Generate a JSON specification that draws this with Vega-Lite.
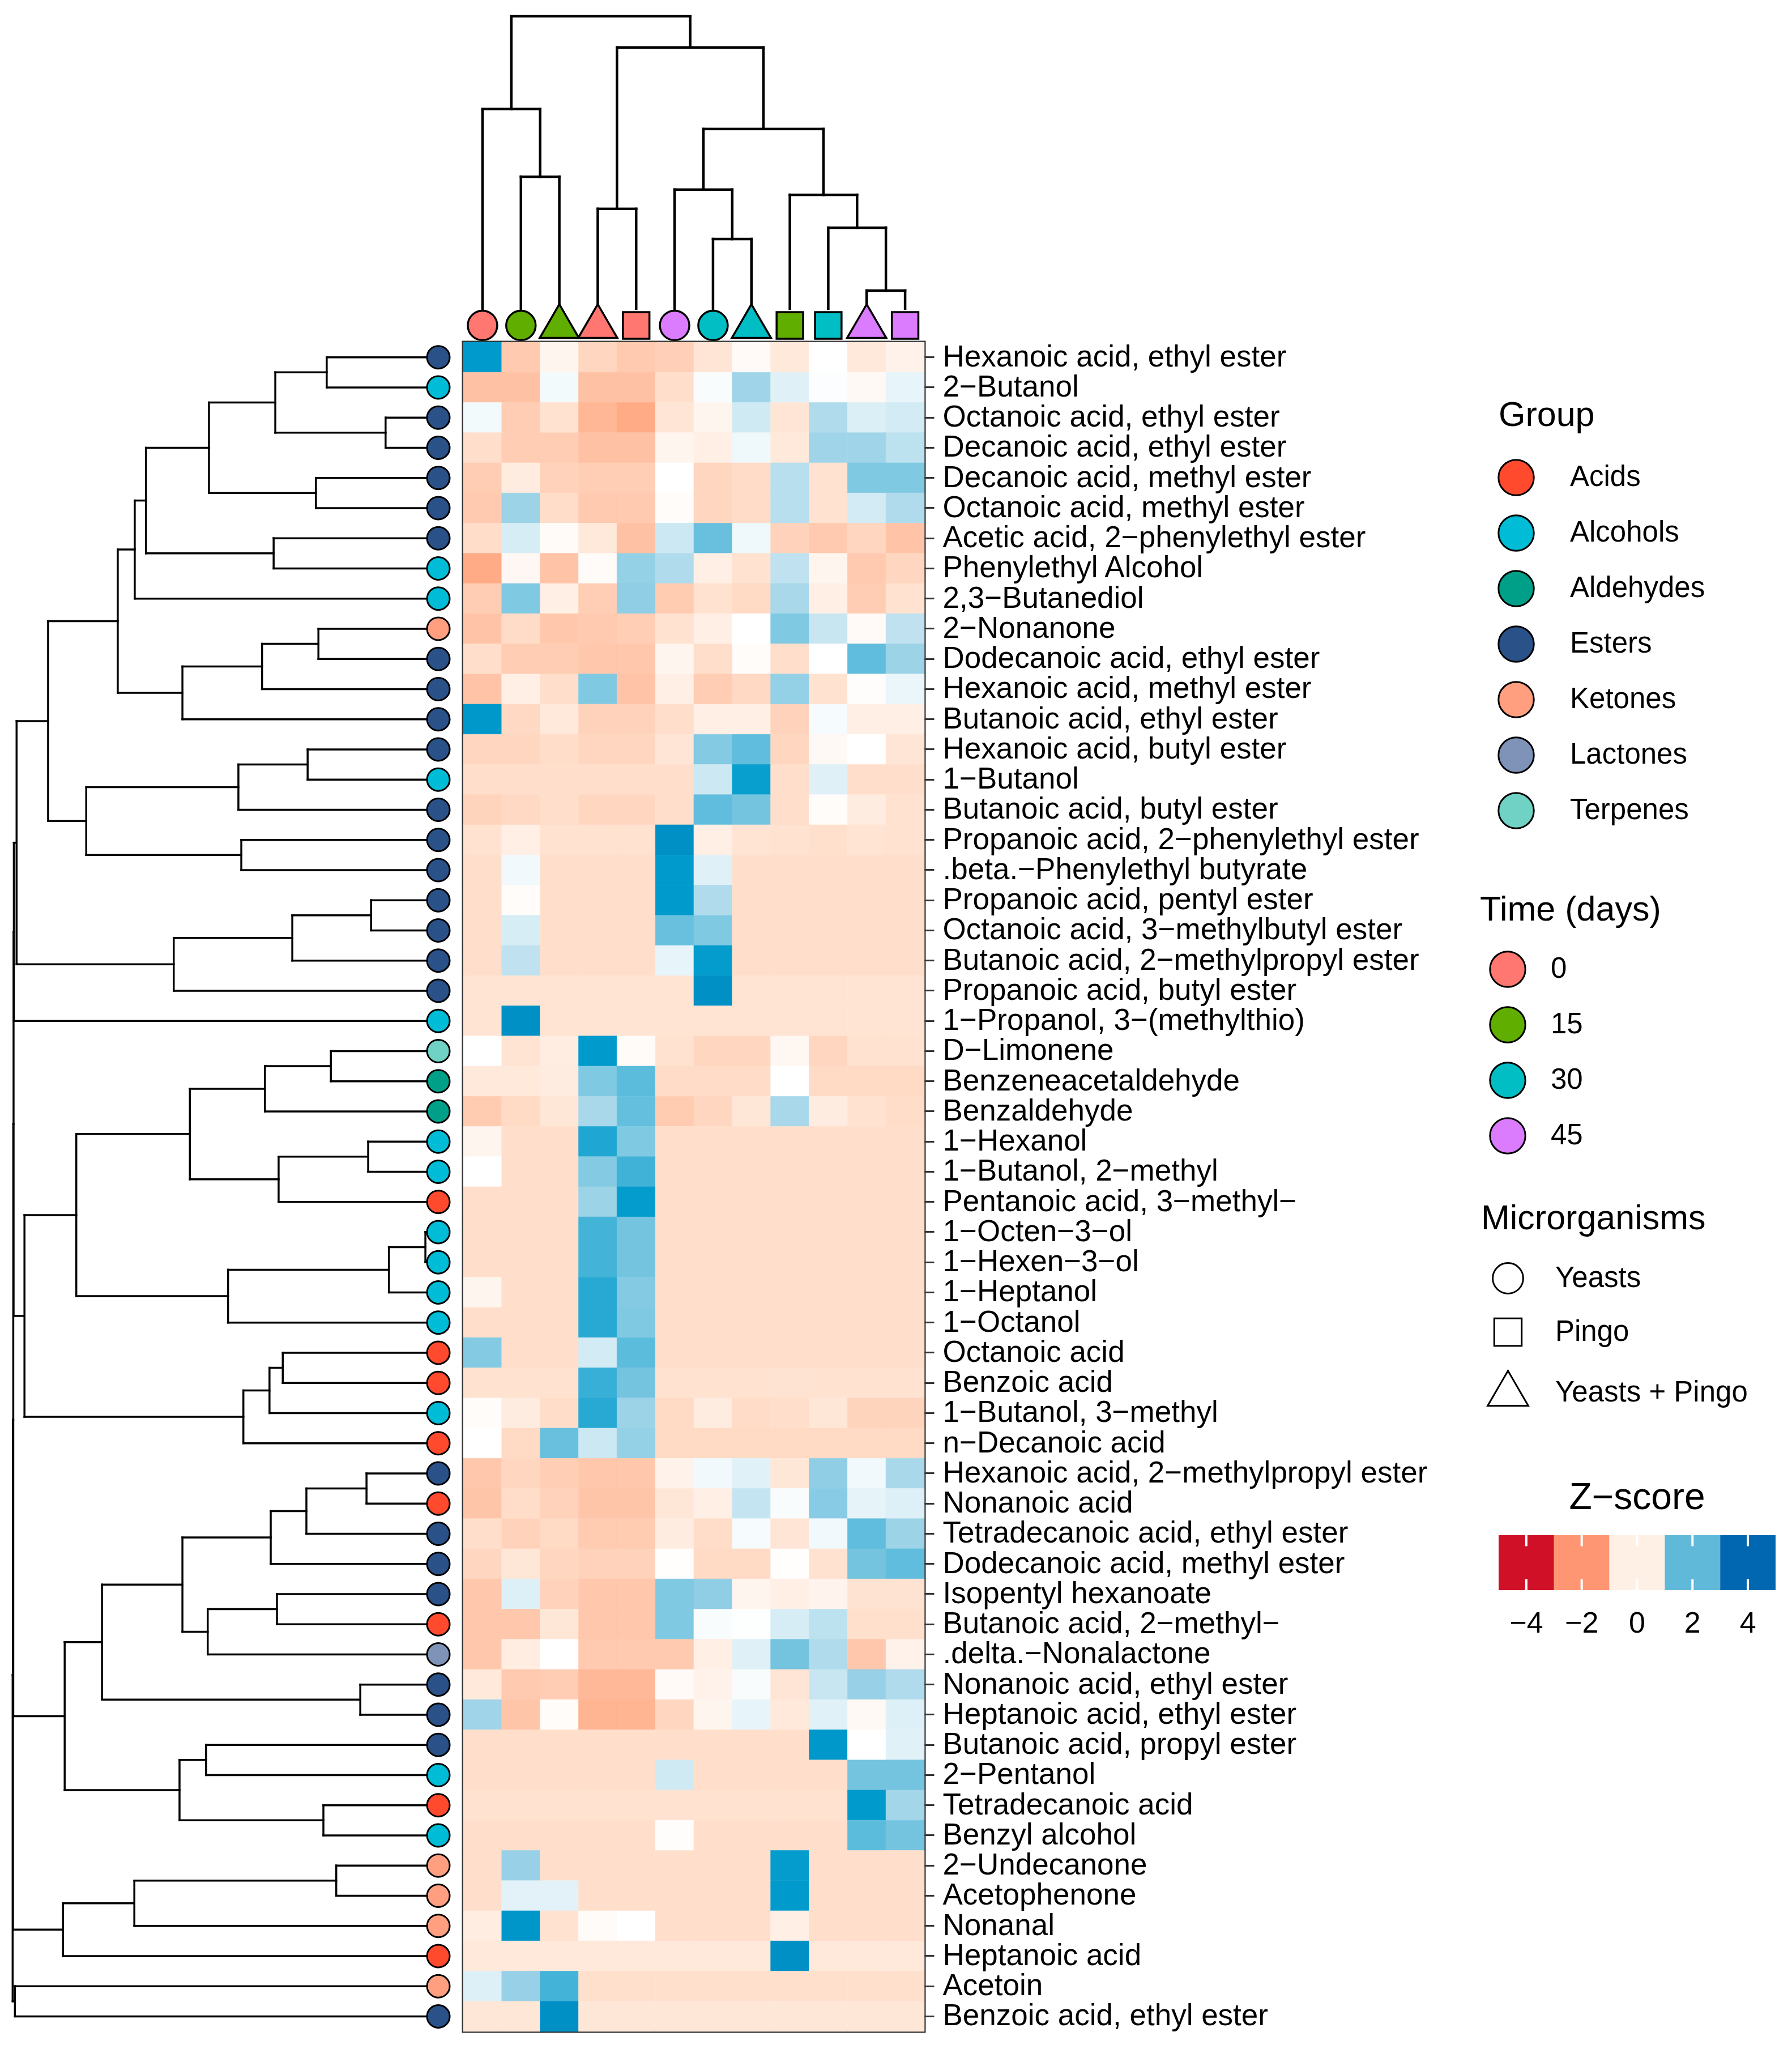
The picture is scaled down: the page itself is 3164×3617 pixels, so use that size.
{
"$schema": "https://vega.github.io/schema/vega-lite/v6.json",
"padding": 0,
"background": "white",
"config": {
  "view": {"stroke": null},
  "font": "Liberation Sans",
  "legend": {"labelFont": "Liberation Sans", "titleFont": "Liberation Sans", "labelFontSize": 51, "titleFontSize": 61, "titleFontWeight": "normal", "labelColor": "black", "titleColor": "black", "padding": 0, "labelLimit": 2000, "titleLimit": 2000, "symbolOpacity": 1}
},
"datasets": {
"compounds": [
{"r":1,"name":"Hexanoic acid, ethyl ester","Group":"Esters"},
{"r":2,"name":"2−Butanol","Group":"Alcohols"},
{"r":3,"name":"Octanoic acid, ethyl ester","Group":"Esters"},
{"r":4,"name":"Decanoic acid, ethyl ester","Group":"Esters"},
{"r":5,"name":"Decanoic acid, methyl ester","Group":"Esters"},
{"r":6,"name":"Octanoic acid, methyl ester","Group":"Esters"},
{"r":7,"name":"Acetic acid, 2−phenylethyl ester","Group":"Esters"},
{"r":8,"name":"Phenylethyl Alcohol","Group":"Alcohols"},
{"r":9,"name":"2,3−Butanediol","Group":"Alcohols"},
{"r":10,"name":"2−Nonanone","Group":"Ketones"},
{"r":11,"name":"Dodecanoic acid, ethyl ester","Group":"Esters"},
{"r":12,"name":"Hexanoic acid, methyl ester","Group":"Esters"},
{"r":13,"name":"Butanoic acid, ethyl ester","Group":"Esters"},
{"r":14,"name":"Hexanoic acid, butyl ester","Group":"Esters"},
{"r":15,"name":"1−Butanol","Group":"Alcohols"},
{"r":16,"name":"Butanoic acid, butyl ester","Group":"Esters"},
{"r":17,"name":"Propanoic acid, 2−phenylethyl ester","Group":"Esters"},
{"r":18,"name":".beta.−Phenylethyl butyrate","Group":"Esters"},
{"r":19,"name":"Propanoic acid, pentyl ester","Group":"Esters"},
{"r":20,"name":"Octanoic acid, 3−methylbutyl ester","Group":"Esters"},
{"r":21,"name":"Butanoic acid, 2−methylpropyl ester","Group":"Esters"},
{"r":22,"name":"Propanoic acid, butyl ester","Group":"Esters"},
{"r":23,"name":"1−Propanol, 3−(methylthio)","Group":"Alcohols"},
{"r":24,"name":"D−Limonene","Group":"Terpenes"},
{"r":25,"name":"Benzeneacetaldehyde","Group":"Aldehydes"},
{"r":26,"name":"Benzaldehyde","Group":"Aldehydes"},
{"r":27,"name":"1−Hexanol","Group":"Alcohols"},
{"r":28,"name":"1−Butanol, 2−methyl","Group":"Alcohols"},
{"r":29,"name":"Pentanoic acid, 3−methyl−","Group":"Acids"},
{"r":30,"name":"1−Octen−3−ol","Group":"Alcohols"},
{"r":31,"name":"1−Hexen−3−ol","Group":"Alcohols"},
{"r":32,"name":"1−Heptanol","Group":"Alcohols"},
{"r":33,"name":"1−Octanol","Group":"Alcohols"},
{"r":34,"name":"Octanoic acid","Group":"Acids"},
{"r":35,"name":"Benzoic acid","Group":"Acids"},
{"r":36,"name":"1−Butanol, 3−methyl","Group":"Alcohols"},
{"r":37,"name":"n−Decanoic acid","Group":"Acids"},
{"r":38,"name":"Hexanoic acid, 2−methylpropyl ester","Group":"Esters"},
{"r":39,"name":"Nonanoic acid","Group":"Acids"},
{"r":40,"name":"Tetradecanoic acid, ethyl ester","Group":"Esters"},
{"r":41,"name":"Dodecanoic acid, methyl ester","Group":"Esters"},
{"r":42,"name":"Isopentyl hexanoate","Group":"Esters"},
{"r":43,"name":"Butanoic acid, 2−methyl−","Group":"Acids"},
{"r":44,"name":".delta.−Nonalactone","Group":"Lactones"},
{"r":45,"name":"Nonanoic acid, ethyl ester","Group":"Esters"},
{"r":46,"name":"Heptanoic acid, ethyl ester","Group":"Esters"},
{"r":47,"name":"Butanoic acid, propyl ester","Group":"Esters"},
{"r":48,"name":"2−Pentanol","Group":"Alcohols"},
{"r":49,"name":"Tetradecanoic acid","Group":"Acids"},
{"r":50,"name":"Benzyl alcohol","Group":"Alcohols"},
{"r":51,"name":"2−Undecanone","Group":"Ketones"},
{"r":52,"name":"Acetophenone","Group":"Ketones"},
{"r":53,"name":"Nonanal","Group":"Ketones"},
{"r":54,"name":"Heptanoic acid","Group":"Acids"},
{"r":55,"name":"Acetoin","Group":"Ketones"},
{"r":56,"name":"Benzoic acid, ethyl ester","Group":"Esters"}
],
"cells": [
{"r":1,"c":1,"z":3.2},{"r":1,"c":2,"z":-1.2},{"r":1,"c":3,"z":-0.15},{"r":1,"c":4,"z":-0.8},{"r":1,"c":5,"z":-1.2},{"r":1,"c":6,"z":-1.0},{"r":1,"c":7,"z":-0.4},{"r":1,"c":8,"z":-0.08},{"r":1,"c":9,"z":-0.35},{"r":1,"c":10,"z":0},{"r":1,"c":11,"z":-0.35},{"r":1,"c":12,"z":-0.2},
{"r":2,"c":1,"z":-1.5},{"r":2,"c":2,"z":-1.5},{"r":2,"c":3,"z":0.15},{"r":2,"c":4,"z":-1.5},{"r":2,"c":5,"z":-1.5},{"r":2,"c":6,"z":-0.5},{"r":2,"c":7,"z":0.08},{"r":2,"c":8,"z":1.2},{"r":2,"c":9,"z":0.4},{"r":2,"c":10,"z":0.05},{"r":2,"c":11,"z":-0.1},{"r":2,"c":12,"z":0.3},
{"r":3,"c":1,"z":0.15},{"r":3,"c":2,"z":-1.1},{"r":3,"c":3,"z":-0.45},{"r":3,"c":4,"z":-1.8},{"r":3,"c":5,"z":-2.2},{"r":3,"c":6,"z":-0.4},{"r":3,"c":7,"z":-0.15},{"r":3,"c":8,"z":0.6},{"r":3,"c":9,"z":-0.4},{"r":3,"c":10,"z":1.0},{"r":3,"c":11,"z":0.45},{"r":3,"c":12,"z":0.55},
{"r":4,"c":1,"z":-0.5},{"r":4,"c":2,"z":-1.1},{"r":4,"c":3,"z":-1.1},{"r":4,"c":4,"z":-1.5},{"r":4,"c":5,"z":-1.5},{"r":4,"c":6,"z":-0.15},{"r":4,"c":7,"z":-0.25},{"r":4,"c":8,"z":0.2},{"r":4,"c":9,"z":-0.35},{"r":4,"c":10,"z":1.2},{"r":4,"c":11,"z":1.2},{"r":4,"c":12,"z":0.85},
{"r":5,"c":1,"z":-1.1},{"r":5,"c":2,"z":-0.3},{"r":5,"c":3,"z":-0.9},{"r":5,"c":4,"z":-1.05},{"r":5,"c":5,"z":-1.05},{"r":5,"c":6,"z":0},{"r":5,"c":7,"z":-0.8},{"r":5,"c":8,"z":-0.6},{"r":5,"c":9,"z":0.9},{"r":5,"c":10,"z":-0.45},{"r":5,"c":11,"z":1.6},{"r":5,"c":12,"z":1.6},
{"r":6,"c":1,"z":-1.2},{"r":6,"c":2,"z":1.25},{"r":6,"c":3,"z":-0.55},{"r":6,"c":4,"z":-1.2},{"r":6,"c":5,"z":-1.2},{"r":6,"c":6,"z":-0.05},{"r":6,"c":7,"z":-0.8},{"r":6,"c":8,"z":-0.6},{"r":6,"c":9,"z":0.9},{"r":6,"c":10,"z":-0.45},{"r":6,"c":11,"z":0.55},{"r":6,"c":12,"z":1.0},
{"r":7,"c":1,"z":-0.55},{"r":7,"c":2,"z":0.5},{"r":7,"c":3,"z":-0.07},{"r":7,"c":4,"z":-0.35},{"r":7,"c":5,"z":-1.5},{"r":7,"c":6,"z":0.65},{"r":7,"c":7,"z":1.9},{"r":7,"c":8,"z":0.2},{"r":7,"c":9,"z":-0.9},{"r":7,"c":10,"z":-1.2},{"r":7,"c":11,"z":-0.8},{"r":7,"c":12,"z":-1.4},
{"r":8,"c":1,"z":-2.2},{"r":8,"c":2,"z":-0.12},{"r":8,"c":3,"z":-1.4},{"r":8,"c":4,"z":-0.07},{"r":8,"c":5,"z":1.35},{"r":8,"c":6,"z":1.0},{"r":8,"c":7,"z":-0.25},{"r":8,"c":8,"z":-0.45},{"r":8,"c":9,"z":0.8},{"r":8,"c":10,"z":-0.15},{"r":8,"c":11,"z":-1.2},{"r":8,"c":12,"z":-0.8},
{"r":9,"c":1,"z":-1.1},{"r":9,"c":2,"z":1.6},{"r":9,"c":3,"z":-0.25},{"r":9,"c":4,"z":-1.05},{"r":9,"c":5,"z":1.4},{"r":9,"c":6,"z":-1.15},{"r":9,"c":7,"z":-0.45},{"r":9,"c":8,"z":-0.65},{"r":9,"c":9,"z":1.1},{"r":9,"c":10,"z":-0.25},{"r":9,"c":11,"z":-1.1},{"r":9,"c":12,"z":-0.45},
{"r":10,"c":1,"z":-1.4},{"r":10,"c":2,"z":-0.6},{"r":10,"c":3,"z":-1.25},{"r":10,"c":4,"z":-1.2},{"r":10,"c":5,"z":-1.05},{"r":10,"c":6,"z":-0.45},{"r":10,"c":7,"z":-0.25},{"r":10,"c":8,"z":0},{"r":10,"c":9,"z":1.6},{"r":10,"c":10,"z":0.7},{"r":10,"c":11,"z":-0.08},{"r":10,"c":12,"z":0.8},
{"r":11,"c":1,"z":-0.5},{"r":11,"c":2,"z":-1.1},{"r":11,"c":3,"z":-1.1},{"r":11,"c":4,"z":-1.3},{"r":11,"c":5,"z":-1.3},{"r":11,"c":6,"z":-0.15},{"r":11,"c":7,"z":-0.5},{"r":11,"c":8,"z":-0.05},{"r":11,"c":9,"z":-0.5},{"r":11,"c":10,"z":0},{"r":11,"c":11,"z":2.0},{"r":11,"c":12,"z":1.25},
{"r":12,"c":1,"z":-1.4},{"r":12,"c":2,"z":-0.25},{"r":12,"c":3,"z":-0.5},{"r":12,"c":4,"z":1.6},{"r":12,"c":5,"z":-1.4},{"r":12,"c":6,"z":-0.25},{"r":12,"c":7,"z":-1.1},{"r":12,"c":8,"z":-0.7},{"r":12,"c":9,"z":1.35},{"r":12,"c":10,"z":-0.45},{"r":12,"c":11,"z":-0.03},{"r":12,"c":12,"z":0.25},
{"r":13,"c":1,"z":3.3},{"r":13,"c":2,"z":-0.7},{"r":13,"c":3,"z":-0.35},{"r":13,"c":4,"z":-0.9},{"r":13,"c":5,"z":-0.9},{"r":13,"c":6,"z":-0.5},{"r":13,"c":7,"z":-0.25},{"r":13,"c":8,"z":-0.25},{"r":13,"c":9,"z":-0.9},{"r":13,"c":10,"z":0.12},{"r":13,"c":11,"z":-0.25},{"r":13,"c":12,"z":-0.25},
{"r":14,"c":1,"z":-0.8},{"r":14,"c":2,"z":-0.8},{"r":14,"c":3,"z":-0.55},{"r":14,"c":4,"z":-0.8},{"r":14,"c":5,"z":-0.8},{"r":14,"c":6,"z":-0.4},{"r":14,"c":7,"z":1.55},{"r":14,"c":8,"z":2.0},{"r":14,"c":9,"z":-0.8},{"r":14,"c":10,"z":-0.1},{"r":14,"c":11,"z":0},{"r":14,"c":12,"z":-0.4},
{"r":15,"c":1,"z":-0.5},{"r":15,"c":2,"z":-0.5},{"r":15,"c":3,"z":-0.5},{"r":15,"c":4,"z":-0.5},{"r":15,"c":5,"z":-0.5},{"r":15,"c":6,"z":-0.5},{"r":15,"c":7,"z":0.65},{"r":15,"c":8,"z":3.1},{"r":15,"c":9,"z":-0.5},{"r":15,"c":10,"z":0.4},{"r":15,"c":11,"z":-0.5},{"r":15,"c":12,"z":-0.5},
{"r":16,"c":1,"z":-0.85},{"r":16,"c":2,"z":-0.7},{"r":16,"c":3,"z":-0.5},{"r":16,"c":4,"z":-0.8},{"r":16,"c":5,"z":-0.8},{"r":16,"c":6,"z":-0.5},{"r":16,"c":7,"z":2.0},{"r":16,"c":8,"z":1.75},{"r":16,"c":9,"z":-0.5},{"r":16,"c":10,"z":-0.05},{"r":16,"c":11,"z":-0.3},{"r":16,"c":12,"z":-0.45},
{"r":17,"c":1,"z":-0.45},{"r":17,"c":2,"z":-0.25},{"r":17,"c":3,"z":-0.45},{"r":17,"c":4,"z":-0.45},{"r":17,"c":5,"z":-0.45},{"r":17,"c":6,"z":3.6},{"r":17,"c":7,"z":-0.25},{"r":17,"c":8,"z":-0.42},{"r":17,"c":9,"z":-0.45},{"r":17,"c":10,"z":-0.48},{"r":17,"c":11,"z":-0.42},{"r":17,"c":12,"z":-0.45},
{"r":18,"c":1,"z":-0.5},{"r":18,"c":2,"z":0.18},{"r":18,"c":3,"z":-0.5},{"r":18,"c":4,"z":-0.5},{"r":18,"c":5,"z":-0.5},{"r":18,"c":6,"z":3.2},{"r":18,"c":7,"z":0.4},{"r":18,"c":8,"z":-0.5},{"r":18,"c":9,"z":-0.5},{"r":18,"c":10,"z":-0.5},{"r":18,"c":11,"z":-0.5},{"r":18,"c":12,"z":-0.5},
{"r":19,"c":1,"z":-0.5},{"r":19,"c":2,"z":-0.05},{"r":19,"c":3,"z":-0.5},{"r":19,"c":4,"z":-0.5},{"r":19,"c":5,"z":-0.5},{"r":19,"c":6,"z":3.2},{"r":19,"c":7,"z":1.0},{"r":19,"c":8,"z":-0.5},{"r":19,"c":9,"z":-0.5},{"r":19,"c":10,"z":-0.5},{"r":19,"c":11,"z":-0.5},{"r":19,"c":12,"z":-0.5},
{"r":20,"c":1,"z":-0.5},{"r":20,"c":2,"z":0.5},{"r":20,"c":3,"z":-0.5},{"r":20,"c":4,"z":-0.5},{"r":20,"c":5,"z":-0.5},{"r":20,"c":6,"z":1.9},{"r":20,"c":7,"z":1.6},{"r":20,"c":8,"z":-0.5},{"r":20,"c":9,"z":-0.5},{"r":20,"c":10,"z":-0.5},{"r":20,"c":11,"z":-0.5},{"r":20,"c":12,"z":-0.5},
{"r":21,"c":1,"z":-0.5},{"r":21,"c":2,"z":0.8},{"r":21,"c":3,"z":-0.5},{"r":21,"c":4,"z":-0.5},{"r":21,"c":5,"z":-0.5},{"r":21,"c":6,"z":0.3},{"r":21,"c":7,"z":3.15},{"r":21,"c":8,"z":-0.5},{"r":21,"c":9,"z":-0.5},{"r":21,"c":10,"z":-0.5},{"r":21,"c":11,"z":-0.5},{"r":21,"c":12,"z":-0.5},
{"r":22,"c":1,"z":-0.42},{"r":22,"c":2,"z":-0.42},{"r":22,"c":3,"z":-0.42},{"r":22,"c":4,"z":-0.42},{"r":22,"c":5,"z":-0.42},{"r":22,"c":6,"z":-0.42},{"r":22,"c":7,"z":3.6},{"r":22,"c":8,"z":-0.42},{"r":22,"c":9,"z":-0.42},{"r":22,"c":10,"z":-0.42},{"r":22,"c":11,"z":-0.42},{"r":22,"c":12,"z":-0.42},
{"r":23,"c":1,"z":-0.42},{"r":23,"c":2,"z":3.6},{"r":23,"c":3,"z":-0.42},{"r":23,"c":4,"z":-0.42},{"r":23,"c":5,"z":-0.42},{"r":23,"c":6,"z":-0.42},{"r":23,"c":7,"z":-0.42},{"r":23,"c":8,"z":-0.42},{"r":23,"c":9,"z":-0.42},{"r":23,"c":10,"z":-0.42},{"r":23,"c":11,"z":-0.42},{"r":23,"c":12,"z":-0.42},
{"r":24,"c":1,"z":0},{"r":24,"c":2,"z":-0.42},{"r":24,"c":3,"z":-0.28},{"r":24,"c":4,"z":3.2},{"r":24,"c":5,"z":-0.07},{"r":24,"c":6,"z":-0.45},{"r":24,"c":7,"z":-0.8},{"r":24,"c":8,"z":-0.8},{"r":24,"c":9,"z":-0.13},{"r":24,"c":10,"z":-0.8},{"r":24,"c":11,"z":-0.45},{"r":24,"c":12,"z":-0.45},
{"r":25,"c":1,"z":-0.35},{"r":25,"c":2,"z":-0.35},{"r":25,"c":3,"z":-0.3},{"r":25,"c":4,"z":1.6},{"r":25,"c":5,"z":2.05},{"r":25,"c":6,"z":-0.6},{"r":25,"c":7,"z":-0.6},{"r":25,"c":8,"z":-0.6},{"r":25,"c":9,"z":0},{"r":25,"c":10,"z":-0.65},{"r":25,"c":11,"z":-0.65},{"r":25,"c":12,"z":-0.65},
{"r":26,"c":1,"z":-1.15},{"r":26,"c":2,"z":-0.65},{"r":26,"c":3,"z":-0.38},{"r":26,"c":4,"z":1.1},{"r":26,"c":5,"z":1.95},{"r":26,"c":6,"z":-1.15},{"r":26,"c":7,"z":-0.8},{"r":26,"c":8,"z":-0.38},{"r":26,"c":9,"z":1.1},{"r":26,"c":10,"z":-0.3},{"r":26,"c":11,"z":-0.45},{"r":26,"c":12,"z":-0.55},
{"r":27,"c":1,"z":-0.15},{"r":27,"c":2,"z":-0.5},{"r":27,"c":3,"z":-0.5},{"r":27,"c":4,"z":2.8},{"r":27,"c":5,"z":1.6},{"r":27,"c":6,"z":-0.5},{"r":27,"c":7,"z":-0.5},{"r":27,"c":8,"z":-0.5},{"r":27,"c":9,"z":-0.5},{"r":27,"c":10,"z":-0.5},{"r":27,"c":11,"z":-0.5},{"r":27,"c":12,"z":-0.5},
{"r":28,"c":1,"z":0},{"r":28,"c":2,"z":-0.5},{"r":28,"c":3,"z":-0.5},{"r":28,"c":4,"z":1.55},{"r":28,"c":5,"z":2.4},{"r":28,"c":6,"z":-0.5},{"r":28,"c":7,"z":-0.5},{"r":28,"c":8,"z":-0.5},{"r":28,"c":9,"z":-0.5},{"r":28,"c":10,"z":-0.5},{"r":28,"c":11,"z":-0.5},{"r":28,"c":12,"z":-0.5},
{"r":29,"c":1,"z":-0.5},{"r":29,"c":2,"z":-0.5},{"r":29,"c":3,"z":-0.5},{"r":29,"c":4,"z":1.25},{"r":29,"c":5,"z":3.15},{"r":29,"c":6,"z":-0.5},{"r":29,"c":7,"z":-0.5},{"r":29,"c":8,"z":-0.5},{"r":29,"c":9,"z":-0.5},{"r":29,"c":10,"z":-0.5},{"r":29,"c":11,"z":-0.5},{"r":29,"c":12,"z":-0.5},
{"r":30,"c":1,"z":-0.5},{"r":30,"c":2,"z":-0.5},{"r":30,"c":3,"z":-0.5},{"r":30,"c":4,"z":2.35},{"r":30,"c":5,"z":1.75},{"r":30,"c":6,"z":-0.5},{"r":30,"c":7,"z":-0.5},{"r":30,"c":8,"z":-0.5},{"r":30,"c":9,"z":-0.5},{"r":30,"c":10,"z":-0.5},{"r":30,"c":11,"z":-0.5},{"r":30,"c":12,"z":-0.5},
{"r":31,"c":1,"z":-0.5},{"r":31,"c":2,"z":-0.5},{"r":31,"c":3,"z":-0.5},{"r":31,"c":4,"z":2.35},{"r":31,"c":5,"z":1.75},{"r":31,"c":6,"z":-0.5},{"r":31,"c":7,"z":-0.5},{"r":31,"c":8,"z":-0.5},{"r":31,"c":9,"z":-0.5},{"r":31,"c":10,"z":-0.5},{"r":31,"c":11,"z":-0.5},{"r":31,"c":12,"z":-0.5},
{"r":32,"c":1,"z":-0.15},{"r":32,"c":2,"z":-0.5},{"r":32,"c":3,"z":-0.5},{"r":32,"c":4,"z":2.7},{"r":32,"c":5,"z":1.55},{"r":32,"c":6,"z":-0.5},{"r":32,"c":7,"z":-0.5},{"r":32,"c":8,"z":-0.5},{"r":32,"c":9,"z":-0.5},{"r":32,"c":10,"z":-0.5},{"r":32,"c":11,"z":-0.5},{"r":32,"c":12,"z":-0.5},
{"r":33,"c":1,"z":-0.5},{"r":33,"c":2,"z":-0.5},{"r":33,"c":3,"z":-0.5},{"r":33,"c":4,"z":2.7},{"r":33,"c":5,"z":1.6},{"r":33,"c":6,"z":-0.5},{"r":33,"c":7,"z":-0.5},{"r":33,"c":8,"z":-0.5},{"r":33,"c":9,"z":-0.5},{"r":33,"c":10,"z":-0.5},{"r":33,"c":11,"z":-0.5},{"r":33,"c":12,"z":-0.5},
{"r":34,"c":1,"z":1.55},{"r":34,"c":2,"z":-0.5},{"r":34,"c":3,"z":-0.5},{"r":34,"c":4,"z":0.55},{"r":34,"c":5,"z":2.05},{"r":34,"c":6,"z":-0.5},{"r":34,"c":7,"z":-0.5},{"r":34,"c":8,"z":-0.5},{"r":34,"c":9,"z":-0.5},{"r":34,"c":10,"z":-0.5},{"r":34,"c":11,"z":-0.5},{"r":34,"c":12,"z":-0.5},
{"r":35,"c":1,"z":-0.45},{"r":35,"c":2,"z":-0.45},{"r":35,"c":3,"z":-0.45},{"r":35,"c":4,"z":2.5},{"r":35,"c":5,"z":1.75},{"r":35,"c":6,"z":-0.45},{"r":35,"c":7,"z":-0.45},{"r":35,"c":8,"z":-0.45},{"r":35,"c":9,"z":-0.43},{"r":35,"c":10,"z":-0.45},{"r":35,"c":11,"z":-0.45},{"r":35,"c":12,"z":-0.45},
{"r":36,"c":1,"z":-0.05},{"r":36,"c":2,"z":-0.3},{"r":36,"c":3,"z":-0.55},{"r":36,"c":4,"z":2.7},{"r":36,"c":5,"z":1.25},{"r":36,"c":6,"z":-0.65},{"r":36,"c":7,"z":-0.3},{"r":36,"c":8,"z":-0.6},{"r":36,"c":9,"z":-0.5},{"r":36,"c":10,"z":-0.38},{"r":36,"c":11,"z":-0.85},{"r":36,"c":12,"z":-0.85},
{"r":37,"c":1,"z":0},{"r":37,"c":2,"z":-0.65},{"r":37,"c":3,"z":1.9},{"r":37,"c":4,"z":0.65},{"r":37,"c":5,"z":1.35},{"r":37,"c":6,"z":-0.65},{"r":37,"c":7,"z":-0.65},{"r":37,"c":8,"z":-0.65},{"r":37,"c":9,"z":-0.65},{"r":37,"c":10,"z":-0.65},{"r":37,"c":11,"z":-0.65},{"r":37,"c":12,"z":-0.65},
{"r":38,"c":1,"z":-1.3},{"r":38,"c":2,"z":-0.75},{"r":38,"c":3,"z":-1.05},{"r":38,"c":4,"z":-1.3},{"r":38,"c":5,"z":-1.3},{"r":38,"c":6,"z":-0.2},{"r":38,"c":7,"z":0.18},{"r":38,"c":8,"z":0.38},{"r":38,"c":9,"z":-0.38},{"r":38,"c":10,"z":1.4},{"r":38,"c":11,"z":0.18},{"r":38,"c":12,"z":1.1},
{"r":39,"c":1,"z":-1.35},{"r":39,"c":2,"z":-0.55},{"r":39,"c":3,"z":-0.9},{"r":39,"c":4,"z":-1.35},{"r":39,"c":5,"z":-1.35},{"r":39,"c":6,"z":-0.38},{"r":39,"c":7,"z":-0.25},{"r":39,"c":8,"z":0.75},{"r":39,"c":9,"z":0.08},{"r":39,"c":10,"z":1.5},{"r":39,"c":11,"z":0.32},{"r":39,"c":12,"z":0.42},
{"r":40,"c":1,"z":-0.5},{"r":40,"c":2,"z":-0.9},{"r":40,"c":3,"z":-0.65},{"r":40,"c":4,"z":-1.15},{"r":40,"c":5,"z":-1.15},{"r":40,"c":6,"z":-0.3},{"r":40,"c":7,"z":-0.55},{"r":40,"c":8,"z":0.12},{"r":40,"c":9,"z":-0.4},{"r":40,"c":10,"z":0.18},{"r":40,"c":11,"z":2.0},{"r":40,"c":12,"z":1.25},
{"r":41,"c":1,"z":-0.8},{"r":41,"c":2,"z":-0.38},{"r":41,"c":3,"z":-0.8},{"r":41,"c":4,"z":-0.9},{"r":41,"c":5,"z":-0.9},{"r":41,"c":6,"z":-0.02},{"r":41,"c":7,"z":-0.65},{"r":41,"c":8,"z":-0.65},{"r":41,"c":9,"z":-0.02},{"r":41,"c":10,"z":-0.45},{"r":41,"c":11,"z":1.75},{"r":41,"c":12,"z":2.0},
{"r":42,"c":1,"z":-1.3},{"r":42,"c":2,"z":0.42},{"r":42,"c":3,"z":-0.9},{"r":42,"c":4,"z":-1.3},{"r":42,"c":5,"z":-1.3},{"r":42,"c":6,"z":1.6},{"r":42,"c":7,"z":1.4},{"r":42,"c":8,"z":-0.15},{"r":42,"c":9,"z":-0.25},{"r":42,"c":10,"z":-0.17},{"r":42,"c":11,"z":-0.43},{"r":42,"c":12,"z":-0.43},
{"r":43,"c":1,"z":-1.3},{"r":43,"c":2,"z":-1.3},{"r":43,"c":3,"z":-0.38},{"r":43,"c":4,"z":-1.3},{"r":43,"c":5,"z":-1.3},{"r":43,"c":6,"z":1.6},{"r":43,"c":7,"z":0.08},{"r":43,"c":8,"z":0.03},{"r":43,"c":9,"z":0.5},{"r":43,"c":10,"z":0.85},{"r":43,"c":11,"z":-0.48},{"r":43,"c":12,"z":-0.48},
{"r":44,"c":1,"z":-1.3},{"r":44,"c":2,"z":-0.28},{"r":44,"c":3,"z":0},{"r":44,"c":4,"z":-1.2},{"r":44,"c":5,"z":-1.2},{"r":44,"c":6,"z":-1.2},{"r":44,"c":7,"z":-0.25},{"r":44,"c":8,"z":0.4},{"r":44,"c":9,"z":1.75},{"r":44,"c":10,"z":1.0},{"r":44,"c":11,"z":-1.3},{"r":44,"c":12,"z":-0.2},
{"r":45,"c":1,"z":-0.35},{"r":45,"c":2,"z":-1.2},{"r":45,"c":3,"z":-1.1},{"r":45,"c":4,"z":-1.75},{"r":45,"c":5,"z":-1.75},{"r":45,"c":6,"z":-0.08},{"r":45,"c":7,"z":-0.2},{"r":45,"c":8,"z":0.08},{"r":45,"c":9,"z":-0.4},{"r":45,"c":10,"z":0.7},{"r":45,"c":11,"z":1.3},{"r":45,"c":12,"z":1.0},
{"r":46,"c":1,"z":1.2},{"r":46,"c":2,"z":-1.35},{"r":46,"c":3,"z":-0.05},{"r":46,"c":4,"z":-1.9},{"r":46,"c":5,"z":-1.9},{"r":46,"c":6,"z":-0.75},{"r":46,"c":7,"z":-0.15},{"r":46,"c":8,"z":0.3},{"r":46,"c":9,"z":-0.35},{"r":46,"c":10,"z":0.38},{"r":46,"c":11,"z":-0.1},{"r":46,"c":12,"z":0.42},
{"r":47,"c":1,"z":-0.5},{"r":47,"c":2,"z":-0.5},{"r":47,"c":3,"z":-0.5},{"r":47,"c":4,"z":-0.5},{"r":47,"c":5,"z":-0.5},{"r":47,"c":6,"z":-0.5},{"r":47,"c":7,"z":-0.5},{"r":47,"c":8,"z":-0.5},{"r":47,"c":9,"z":-0.5},{"r":47,"c":10,"z":3.3},{"r":47,"c":11,"z":0},{"r":47,"c":12,"z":0.38},
{"r":48,"c":1,"z":-0.5},{"r":48,"c":2,"z":-0.5},{"r":48,"c":3,"z":-0.5},{"r":48,"c":4,"z":-0.5},{"r":48,"c":5,"z":-0.5},{"r":48,"c":6,"z":0.6},{"r":48,"c":7,"z":-0.5},{"r":48,"c":8,"z":-0.5},{"r":48,"c":9,"z":-0.5},{"r":48,"c":10,"z":-0.5},{"r":48,"c":11,"z":1.75},{"r":48,"c":12,"z":1.75},
{"r":49,"c":1,"z":-0.45},{"r":49,"c":2,"z":-0.45},{"r":49,"c":3,"z":-0.45},{"r":49,"c":4,"z":-0.45},{"r":49,"c":5,"z":-0.45},{"r":49,"c":6,"z":-0.45},{"r":49,"c":7,"z":-0.45},{"r":49,"c":8,"z":-0.45},{"r":49,"c":9,"z":-0.45},{"r":49,"c":10,"z":-0.45},{"r":49,"c":11,"z":3.2},{"r":49,"c":12,"z":1.15},
{"r":50,"c":1,"z":-0.5},{"r":50,"c":2,"z":-0.5},{"r":50,"c":3,"z":-0.5},{"r":50,"c":4,"z":-0.5},{"r":50,"c":5,"z":-0.5},{"r":50,"c":6,"z":-0.03},{"r":50,"c":7,"z":-0.5},{"r":50,"c":8,"z":-0.5},{"r":50,"c":9,"z":-0.5},{"r":50,"c":10,"z":-0.5},{"r":50,"c":11,"z":2.05},{"r":50,"c":12,"z":1.75},
{"r":51,"c":1,"z":-0.5},{"r":51,"c":2,"z":1.3},{"r":51,"c":3,"z":-0.5},{"r":51,"c":4,"z":-0.5},{"r":51,"c":5,"z":-0.5},{"r":51,"c":6,"z":-0.5},{"r":51,"c":7,"z":-0.5},{"r":51,"c":8,"z":-0.5},{"r":51,"c":9,"z":3.15},{"r":51,"c":10,"z":-0.5},{"r":51,"c":11,"z":-0.5},{"r":51,"c":12,"z":-0.5},
{"r":52,"c":1,"z":-0.5},{"r":52,"c":2,"z":0.35},{"r":52,"c":3,"z":0.35},{"r":52,"c":4,"z":-0.5},{"r":52,"c":5,"z":-0.5},{"r":52,"c":6,"z":-0.5},{"r":52,"c":7,"z":-0.5},{"r":52,"c":8,"z":-0.5},{"r":52,"c":9,"z":3.2},{"r":52,"c":10,"z":-0.5},{"r":52,"c":11,"z":-0.5},{"r":52,"c":12,"z":-0.5},
{"r":53,"c":1,"z":-0.28},{"r":53,"c":2,"z":3.4},{"r":53,"c":3,"z":-0.45},{"r":53,"c":4,"z":-0.07},{"r":53,"c":5,"z":0},{"r":53,"c":6,"z":-0.5},{"r":53,"c":7,"z":-0.5},{"r":53,"c":8,"z":-0.5},{"r":53,"c":9,"z":-0.25},{"r":53,"c":10,"z":-0.5},{"r":53,"c":11,"z":-0.5},{"r":53,"c":12,"z":-0.5},
{"r":54,"c":1,"z":-0.35},{"r":54,"c":2,"z":-0.35},{"r":54,"c":3,"z":-0.35},{"r":54,"c":4,"z":-0.35},{"r":54,"c":5,"z":-0.35},{"r":54,"c":6,"z":-0.35},{"r":54,"c":7,"z":-0.35},{"r":54,"c":8,"z":-0.35},{"r":54,"c":9,"z":3.6},{"r":54,"c":10,"z":-0.35},{"r":54,"c":11,"z":-0.35},{"r":54,"c":12,"z":-0.35},
{"r":55,"c":1,"z":0.42},{"r":55,"c":2,"z":1.3},{"r":55,"c":3,"z":2.35},{"r":55,"c":4,"z":-0.48},{"r":55,"c":5,"z":-0.48},{"r":55,"c":6,"z":-0.48},{"r":55,"c":7,"z":-0.48},{"r":55,"c":8,"z":-0.48},{"r":55,"c":9,"z":-0.48},{"r":55,"c":10,"z":-0.48},{"r":55,"c":11,"z":-0.48},{"r":55,"c":12,"z":-0.48},
{"r":56,"c":1,"z":-0.38},{"r":56,"c":2,"z":-0.38},{"r":56,"c":3,"z":3.6},{"r":56,"c":4,"z":-0.38},{"r":56,"c":5,"z":-0.38},{"r":56,"c":6,"z":-0.38},{"r":56,"c":7,"z":-0.38},{"r":56,"c":8,"z":-0.38},{"r":56,"c":9,"z":-0.38},{"r":56,"c":10,"z":-0.38},{"r":56,"c":11,"z":-0.38},{"r":56,"c":12,"z":-0.38}
],
"rowTree": [
{"h":24.2,"yL":1,"yR":2,"hL":0,"hR":0},
{"h":10.0,"yL":3,"yR":4,"hL":0,"hR":0},
{"h":36.6,"yL":1.5,"yR":3.5,"hL":24.2,"hR":10.0},
{"h":26.8,"yL":5,"yR":6,"hL":0,"hR":0},
{"h":52.6,"yL":2.5,"yR":5.5,"hL":36.6,"hR":26.8},
{"h":37.0,"yL":7,"yR":8,"hL":0,"hR":0},
{"h":67.8,"yL":4,"yR":7.5,"hL":52.6,"hR":37.0},
{"h":70.5,"yL":5.75,"yR":9,"hL":67.8,"hR":0},
{"h":26.2,"yL":10,"yR":11,"hL":0,"hR":0},
{"h":39.8,"yL":10.5,"yR":12,"hL":26.2,"hR":0},
{"h":59.0,"yL":11.25,"yR":13,"hL":39.8,"hR":0},
{"h":74.6,"yL":7.375,"yR":12.125,"hL":70.5,"hR":59.0},
{"h":28.8,"yL":14,"yR":15,"hL":0,"hR":0},
{"h":45.5,"yL":14.5,"yR":16,"hL":28.8,"hR":0},
{"h":44.8,"yL":17,"yR":18,"hL":0,"hR":0},
{"h":82.2,"yL":15.25,"yR":17.5,"hL":45.5,"hR":44.8},
{"h":91.4,"yL":9.75,"yR":16.375,"hL":74.6,"hR":82.2},
{"h":13.5,"yL":19,"yR":20,"hL":0,"hR":0},
{"h":32.5,"yL":19.5,"yR":21,"hL":13.5,"hR":0},
{"h":61.1,"yL":20.25,"yR":22,"hL":32.5,"hR":0},
{"h":99.0,"yL":13.0625,"yR":21.125,"hL":91.4,"hR":61.1},
{"h":99.66,"yL":17.094,"yR":23,"hL":99.0,"hR":0},
{"h":23.2,"yL":24,"yR":25,"hL":0,"hR":0},
{"h":39.1,"yL":24.5,"yR":26,"hL":23.2,"hR":0},
{"h":14.2,"yL":27,"yR":28,"hL":0,"hR":0},
{"h":35.8,"yL":27.5,"yR":29,"hL":14.2,"hR":0},
{"h":57.2,"yL":25.25,"yR":28.25,"hL":39.1,"hR":35.8},
{"h":0.4,"yL":30,"yR":31,"hL":0,"hR":0},
{"h":9.2,"yL":30.5,"yR":32,"hL":0.4,"hR":0},
{"h":48.0,"yL":31.25,"yR":33,"hL":9.2,"hR":0},
{"h":84.6,"yL":26.75,"yR":32.125,"hL":57.2,"hR":48.0},
{"h":34.8,"yL":34,"yR":35,"hL":0,"hR":0},
{"h":38.0,"yL":34.5,"yR":36,"hL":34.8,"hR":0},
{"h":44.3,"yL":35.25,"yR":37,"hL":38.0,"hR":0},
{"h":97.1,"yL":29.4375,"yR":36.125,"hL":84.6,"hR":44.3},
{"h":99.73,"yL":20.047,"yR":32.781,"hL":99.66,"hR":97.1},
{"h":14.6,"yL":38,"yR":39,"hL":0,"hR":0},
{"h":29.1,"yL":38.5,"yR":40,"hL":14.6,"hR":0},
{"h":37.7,"yL":39.25,"yR":41,"hL":29.1,"hR":0},
{"h":36.2,"yL":42,"yR":43,"hL":0,"hR":0},
{"h":52.9,"yL":42.5,"yR":44,"hL":36.2,"hR":0},
{"h":59.0,"yL":40.125,"yR":43.25,"hL":37.7,"hR":52.9},
{"h":16.1,"yL":45,"yR":46,"hL":0,"hR":0},
{"h":78.4,"yL":41.6875,"yR":45.5,"hL":59.0,"hR":16.1},
{"h":53.3,"yL":47,"yR":48,"hL":0,"hR":0},
{"h":25.0,"yL":49,"yR":50,"hL":0,"hR":0},
{"h":59.7,"yL":47.5,"yR":49.5,"hL":53.3,"hR":25.0},
{"h":87.4,"yL":43.594,"yR":48.5,"hL":78.4,"hR":59.7},
{"h":99.8,"yL":26.414,"yR":46.047,"hL":99.73,"hR":87.4},
{"h":21.9,"yL":51,"yR":52,"hL":0,"hR":0},
{"h":70.6,"yL":51.5,"yR":53,"hL":21.9,"hR":0},
{"h":87.8,"yL":52.25,"yR":54,"hL":70.6,"hR":0},
{"h":99.87,"yL":36.23,"yR":53.125,"hL":99.8,"hR":87.8},
{"h":99.4,"yL":55,"yR":56,"hL":0,"hR":0},
{"h":99.95,"yL":44.68,"yR":55.5,"hL":99.87,"hR":99.4}
],
"colTree": [
{"h":6.2,"pL":11,"pR":12,"hL":0,"hR":0},
{"h":27.7,"pL":10,"pR":11.5,"hL":0,"hR":6.2},
{"h":38.9,"pL":9,"pR":10.75,"hL":0,"hR":27.7},
{"h":23.8,"pL":7,"pR":8,"hL":0,"hR":0},
{"h":40.7,"pL":6,"pR":7.5,"hL":0,"hR":23.8},
{"h":61.4,"pL":6.75,"pR":9.875,"hL":40.7,"hR":38.9},
{"h":34.1,"pL":4,"pR":5,"hL":0,"hR":0},
{"h":89.3,"pL":4.5,"pR":8.3125,"hL":34.1,"hR":61.4},
{"h":45.1,"pL":2,"pR":3,"hL":0,"hR":0},
{"h":68.3,"pL":1,"pR":2.5,"hL":0,"hR":45.1},
{"h":100,"pL":1.75,"pR":6.40625,"hL":68.3,"hR":89.3}
],
"colAnnot": [
{"c":1,"Time":0,"Microorganisms":"Yeasts"},
{"c":2,"Time":15,"Microorganisms":"Yeasts"},
{"c":3,"Time":15,"Microorganisms":"Yeasts + Pingo"},
{"c":4,"Time":0,"Microorganisms":"Yeasts + Pingo"},
{"c":5,"Time":0,"Microorganisms":"Pingo"},
{"c":6,"Time":45,"Microorganisms":"Yeasts"},
{"c":7,"Time":30,"Microorganisms":"Yeasts"},
{"c":8,"Time":30,"Microorganisms":"Yeasts + Pingo"},
{"c":9,"Time":15,"Microorganisms":"Pingo"},
{"c":10,"Time":30,"Microorganisms":"Pingo"},
{"c":11,"Time":45,"Microorganisms":"Yeasts + Pingo"},
{"c":12,"Time":45,"Microorganisms":"Pingo"}
],
"zlegend": [{"v":-4},{"v":-2},{"v":0},{"v":2},{"v":4}]
},
"bounds": "flush",
"spacing": 2646,
"resolve": {"scale": {"color": "independent", "fill": "independent", "shape": "independent", "stroke": "independent"}, "legend": {"color": "independent", "fill": "independent", "shape": "independent", "stroke": "independent"}},
"hconcat": [
{
 "columns": 3,
 "spacing": 0,
 "bounds": "flush",
 "align": "each",
 "resolve": {"scale": {"color": "independent", "fill": "independent", "shape": "independent", "stroke": "independent"}, "legend": {"color": "independent", "fill": "independent", "shape": "independent", "stroke": "independent"}},
 "concat": [
  {"width": 754, "height": 545, "data": {"values": []}, "mark": "point"},
  {"width": 64, "height": 545, "data": {"values": []}, "mark": "point"},
  {
   "width": 814, "height": 545,
   "data": {"name": "colTree"},
   "layer": [
    {"mark": {"type": "rule", "color": "black", "strokeWidth": 4.5, "strokeCap": "square"},
     "encoding": {
      "x": {"field": "pL", "type": "quantitative", "scale": {"domain": [0.5, 12.5], "nice": false, "zero": false}, "axis": null},
      "x2": {"field": "pR"},
      "y": {"field": "h", "type": "quantitative", "scale": {"domain": [0, 105.5], "nice": false}, "axis": null}}},
    {"mark": {"type": "rule", "color": "black", "strokeWidth": 4.5, "strokeCap": "square"},
     "encoding": {
      "x": {"field": "pL", "type": "quantitative", "scale": {"domain": [0.5, 12.5], "nice": false, "zero": false}, "axis": null},
      "y": {"field": "hL", "type": "quantitative", "scale": {"domain": [0, 105.5], "nice": false}, "axis": null},
      "y2": {"field": "h"}}},
    {"mark": {"type": "rule", "color": "black", "strokeWidth": 4.5, "strokeCap": "square"},
     "encoding": {
      "x": {"field": "pR", "type": "quantitative", "scale": {"domain": [0.5, 12.5], "nice": false, "zero": false}, "axis": null},
      "y": {"field": "hR", "type": "quantitative", "scale": {"domain": [0, 105.5], "nice": false}, "axis": null},
      "y2": {"field": "h"}}}
   ]
  },
  {"width": 754, "height": 59, "data": {"values": []}, "mark": "point"},
  {"width": 64, "height": 59, "data": {"values": []}, "mark": "point"},
  {
   "width": 814, "height": 59,
   "data": {"name": "colAnnot"},
   "mark": {"type": "point", "filled": true, "size": 2704, "stroke": "black", "strokeWidth": 3.5, "opacity": 1},
   "encoding": {
    "x": {"field": "c", "type": "quantitative", "scale": {"domain": [0.5, 12.5], "nice": false, "zero": false}, "axis": null},
    "fill": {"field": "Time", "type": "ordinal", "scale": {"domain": [0, 15, 30, 45], "range": ["#FF7770", "#60AE00", "#00BEC4", "#DB7CFF"]},
      "legend": {"title": "Time (days)", "orient": "none", "legendX": 1795, "legendY": 1032, "symbolType": "circle", "symbolSize": 3900, "symbolStrokeColor": "black", "symbolStrokeWidth": 3, "symbolOffset": 16, "labelOffset": 43, "rowPadding": 22, "titlePadding": 40,
        "encode": {"symbols": {"update": {"stroke": {"value": "black"}, "strokeWidth": {"value": 3}, "shape": {"value": "circle"}}}}}},
    "shape": {"field": "Microorganisms", "type": "nominal", "scale": {"domain": ["Yeasts", "Pingo", "Yeasts + Pingo"], "range": ["circle", "M-0.9,-0.9L0.9,-0.9L0.9,0.9L-0.9,0.9Z", "M0,-1.44L1.33,0.85L-1.33,0.85Z"]},
      "legend": {"title": "Microrganisms", "orient": "none", "legendX": 1797, "legendY": 1577, "symbolSize": 2900, "symbolFillColor": "white", "symbolStrokeColor": "black", "symbolStrokeWidth": 3, "symbolOffset": 19, "labelOffset": 55, "rowPadding": 31, "titlePadding": 45,
        "encode": {"symbols": {"update": {"fill": {"value": "white"}, "stroke": {"value": "black"}, "strokeWidth": {"value": 3}}}}}}
   }
  },
  {
   "width": 754, "height": 2982,
   "data": {"name": "rowTree"},
   "layer": [
    {"mark": {"type": "rule", "color": "black", "strokeWidth": 3.5, "strokeCap": "square"},
     "encoding": {
      "x": {"field": "h", "type": "quantitative", "scale": {"domain": [0, 103], "reverse": true, "nice": false}, "axis": null},
      "y": {"field": "yL", "type": "quantitative", "scale": {"domain": [0.5, 56.5], "reverse": true, "nice": false, "zero": false}, "axis": null},
      "y2": {"field": "yR"}}},
    {"mark": {"type": "rule", "color": "black", "strokeWidth": 3.5, "strokeCap": "square"},
     "encoding": {
      "x": {"field": "hL", "type": "quantitative", "scale": {"domain": [0, 103], "reverse": true, "nice": false}, "axis": null},
      "x2": {"field": "h"},
      "y": {"field": "yL", "type": "quantitative", "scale": {"domain": [0.5, 56.5], "reverse": true, "nice": false, "zero": false}, "axis": null}}},
    {"mark": {"type": "rule", "color": "black", "strokeWidth": 3.5, "strokeCap": "square"},
     "encoding": {
      "x": {"field": "hR", "type": "quantitative", "scale": {"domain": [0, 103], "reverse": true, "nice": false}, "axis": null},
      "x2": {"field": "h"},
      "y": {"field": "yR", "type": "quantitative", "scale": {"domain": [0.5, 56.5], "reverse": true, "nice": false, "zero": false}, "axis": null}}}
   ]
  },
  {
   "width": 64, "height": 2982,
   "data": {"name": "compounds"},
   "mark": {"type": "point", "shape": "circle", "filled": true, "size": 1600, "stroke": "black", "strokeWidth": 3, "opacity": 1},
   "encoding": {
    "x": {"datum": 1, "type": "quantitative", "scale": {"domain": [0, 3.2], "nice": false}, "axis": null},
    "y": {"field": "r", "type": "quantitative", "scale": {"domain": [0.5, 56.5], "reverse": true, "nice": false, "zero": false}, "axis": null},
    "color": {"field": "Group", "type": "nominal",
      "scale": {"domain": ["Acids", "Alcohols", "Aldehydes", "Esters", "Ketones", "Lactones", "Terpenes"], "range": ["#FF4A2E", "#00BCD6", "#00A088", "#2A5188", "#FF9F80", "#7F92B7", "#70D2C4"]},
      "legend": {"title": "Group", "orient": "none", "legendX": 1892, "legendY": 100, "symbolType": "circle", "symbolSize": 3900, "symbolStrokeColor": "black", "symbolStrokeWidth": 3, "symbolOffset": -2, "labelOffset": 62, "rowPadding": 22, "titlePadding": 45,
        "encode": {"symbols": {"update": {"stroke": {"value": "black"}, "strokeWidth": {"value": 3}}}}}}
   }
  },
  {
   "width": 814, "height": 2982,
   "view": {"stroke": "#333333", "strokeWidth": 5},
   "data": {"name": "cells"},
   "transform": [{"lookup": "r", "from": {"data": {"name": "compounds"}, "key": "r", "fields": ["name"]}}],
   "mark": {"type": "rect", "strokeWidth": 0.6},
   "encoding": {
    "x": {"field": "c", "type": "ordinal", "scale": {"paddingInner": 0, "paddingOuter": 0}, "axis": null},
    "y": {"field": "name", "type": "nominal", "sort": {"field": "r", "op": "min", "order": "ascending"}, "scale": {"paddingInner": 0, "paddingOuter": 0},
      "axis": {"orient": "right", "title": null, "domain": false, "ticks": true, "tickSize": 17, "tickWidth": 3, "tickColor": "#333333", "labelFontSize": 53, "labelFont": "Liberation Sans", "labelColor": "black", "labelPadding": 15, "labelLimit": 2000}},
    "color": {"field": "z", "type": "quantitative", "scale": {"type": "linear", "domain": [-2.5, -0.5, 0, 1.2, 3.2, 4], "range": ["#FFA27A", "#FFDFCB", "#FFFFFF", "#A0D4E8", "#009BCC", "#0085BE"], "interpolate": "rgb"}, "legend": null},
    "stroke": {"field": "z", "type": "quantitative", "scale": {"type": "linear", "domain": [-2.5, -0.5, 0, 1.2, 3.2, 4], "range": ["#FFA27A", "#FFDFCB", "#FFFFFF", "#A0D4E8", "#009BCC", "#0085BE"], "interpolate": "rgb"}, "legend": null}
   }
  }
 ]
},
{
 "spacing": 0,
 "bounds": "flush",
 "vconcat": [
  {"width": 489, "height": 2710, "data": {"values": []}, "mark": "point"},
  {
   "width": 489, "height": 97,
   "title": {"text": "Z−score", "fontSize": 66, "fontWeight": "normal", "font": "Liberation Sans", "color": "black", "anchor": "middle", "offset": 30},
   "data": {"name": "zlegend"},
   "layer": [
    {"mark": {"type": "rect"},
     "encoding": {
      "x": {"field": "v", "type": "ordinal", "scale": {"paddingInner": 0, "paddingOuter": 0},
        "axis": {"orient": "bottom", "title": null, "domain": false, "ticks": false, "labelAngle": 0, "labelFontSize": 52, "labelFont": "Liberation Sans", "labelColor": "black", "labelPadding": 33, "labelExpr": "replace(datum.label, '-', '−')"}},
      "y": {"datum": 0, "type": "quantitative", "scale": {"domain": [0, 1], "nice": false}, "axis": null},
      "y2": {"datum": 1},
      "color": {"field": "v", "type": "ordinal", "scale": {"domain": [-4, -2, 0, 2, 4], "range": ["#D01026", "#FF9673", "#FFF0E5", "#61B9DA", "#0067B0"]}, "legend": null}}},
    {"mark": {"type": "rule", "color": "white", "strokeWidth": 4},
     "encoding": {"x": {"field": "v", "type": "ordinal"}, "y": {"datum": 0, "type": "quantitative"}, "y2": {"datum": 0.2}}},
    {"mark": {"type": "rule", "color": "white", "strokeWidth": 4},
     "encoding": {"x": {"field": "v", "type": "ordinal"}, "y": {"datum": 0.8, "type": "quantitative"}, "y2": {"datum": 1}}}
   ]
  }
 ]
}
]
}
